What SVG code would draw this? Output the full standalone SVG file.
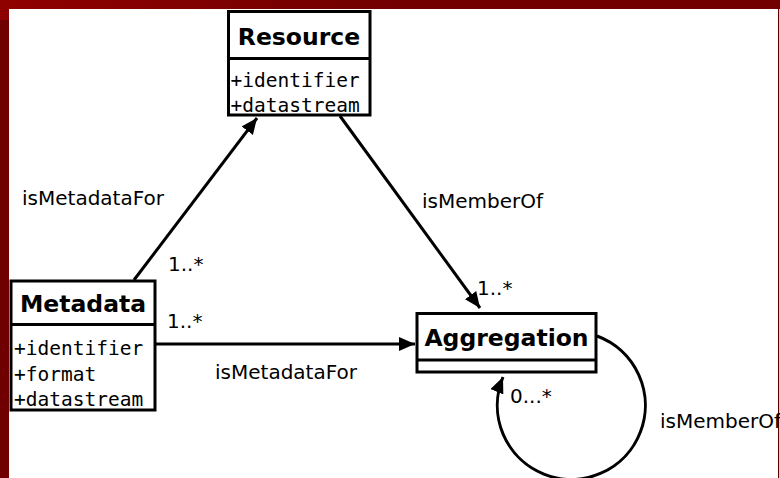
<svg xmlns="http://www.w3.org/2000/svg" width="780" height="478" viewBox="0 0 780 478">
  <defs>
    <linearGradient id="bandTop" x1="0" y1="0" x2="780" y2="0" gradientUnits="userSpaceOnUse">
      <stop offset="0" stop-color="#900000"/>
      <stop offset="0.45" stop-color="#740000"/>
      <stop offset="1" stop-color="#720000"/>
    </linearGradient>
    <marker id="arrow" markerUnits="userSpaceOnUse" markerWidth="18" markerHeight="14" refX="16" refY="7" orient="auto">
      <path d="M0,0 L16,7 L0,14 Z" fill="#000"/>
    </marker>
    <style>
      .box { fill: #fff; stroke: #000; stroke-width: 3; }
      .sep { stroke: #000; stroke-width: 3; }
      .title { font-family: "DejaVu Sans", sans-serif; font-weight: bold; font-size: 23.5px; text-anchor: middle; fill: #000; }
      .attr { font-family: "DejaVu Sans Mono", monospace; font-size: 19.5px; fill: #000; }
      .lbl { font-family: "DejaVu Sans", sans-serif; font-size: 20px; fill: #000; }
      .edge { fill: none; stroke: #000; stroke-width: 3; marker-end: url(#arrow); }
    </style>
  </defs>

  <!-- page background and frame -->
  <rect x="0" y="0" width="780" height="478" fill="#fff"/>
  <rect x="0" y="0" width="780" height="9" fill="url(#bandTop)"/>
  <rect x="0" y="9" width="9" height="11" fill="#8c0000"/>
  <rect x="0" y="20" width="9" height="458" fill="#700000"/>
  <rect x="778" y="9" width="1.2" height="469" fill="#5a0000"/>

  <!-- connectors -->
  <g id="connectors">
    <line class="edge" x1="134" y1="280" x2="257" y2="118"/>
    <line class="edge" x1="340" y1="116" x2="480" y2="308"/>
    <line class="edge" x1="155" y1="344" x2="415" y2="344"/>
    <path class="edge" d="M597,336 A74,74 0 1,1 503,377"/>
  </g>

  <!-- connector labels -->
  <g id="labels">
    <text class="lbl" x="22" y="205">isMetadataFor</text>
    <text class="lbl" x="168" y="271">1..*</text>
    <text class="lbl" x="422" y="208">isMemberOf</text>
    <text class="lbl" x="477" y="295">1..*</text>
    <text class="lbl" x="167" y="328">1..*</text>
    <text class="lbl" x="215" y="379">isMetadataFor</text>
    <text class="lbl" x="510" y="403">0...*</text>
    <text class="lbl" x="660" y="428">isMemberOf</text>
  </g>

  <!-- Resource class -->
  <g id="resource">
    <rect class="box" x="228.5" y="11.5" width="141.5" height="103.5"/>
    <line class="sep" x1="228.5" y1="58.5" x2="370" y2="58.5"/>
    <text class="title" x="299" y="44.5">Resource</text>
    <text class="attr" x="230.5" y="86.5">+identifier</text>
    <text class="attr" x="230.5" y="111.5">+datastream</text>
  </g>

  <!-- Metadata class -->
  <g id="metadata">
    <rect class="box" x="11" y="281" width="144" height="129"/>
    <line class="sep" x1="11" y1="324.5" x2="155" y2="324.5"/>
    <text class="title" x="83" y="311.5">Metadata</text>
    <text class="attr" x="14" y="355">+identifier</text>
    <text class="attr" x="14" y="380.5">+format</text>
    <text class="attr" x="14" y="406">+datastream</text>
  </g>

  <!-- Aggregation class -->
  <g id="aggregation">
    <rect class="box" x="417" y="313.5" width="179" height="58.5"/>
    <line class="sep" x1="417" y1="360" x2="596" y2="360"/>
    <text class="title" x="506.5" y="345.5">Aggregation</text>
  </g>
</svg>
